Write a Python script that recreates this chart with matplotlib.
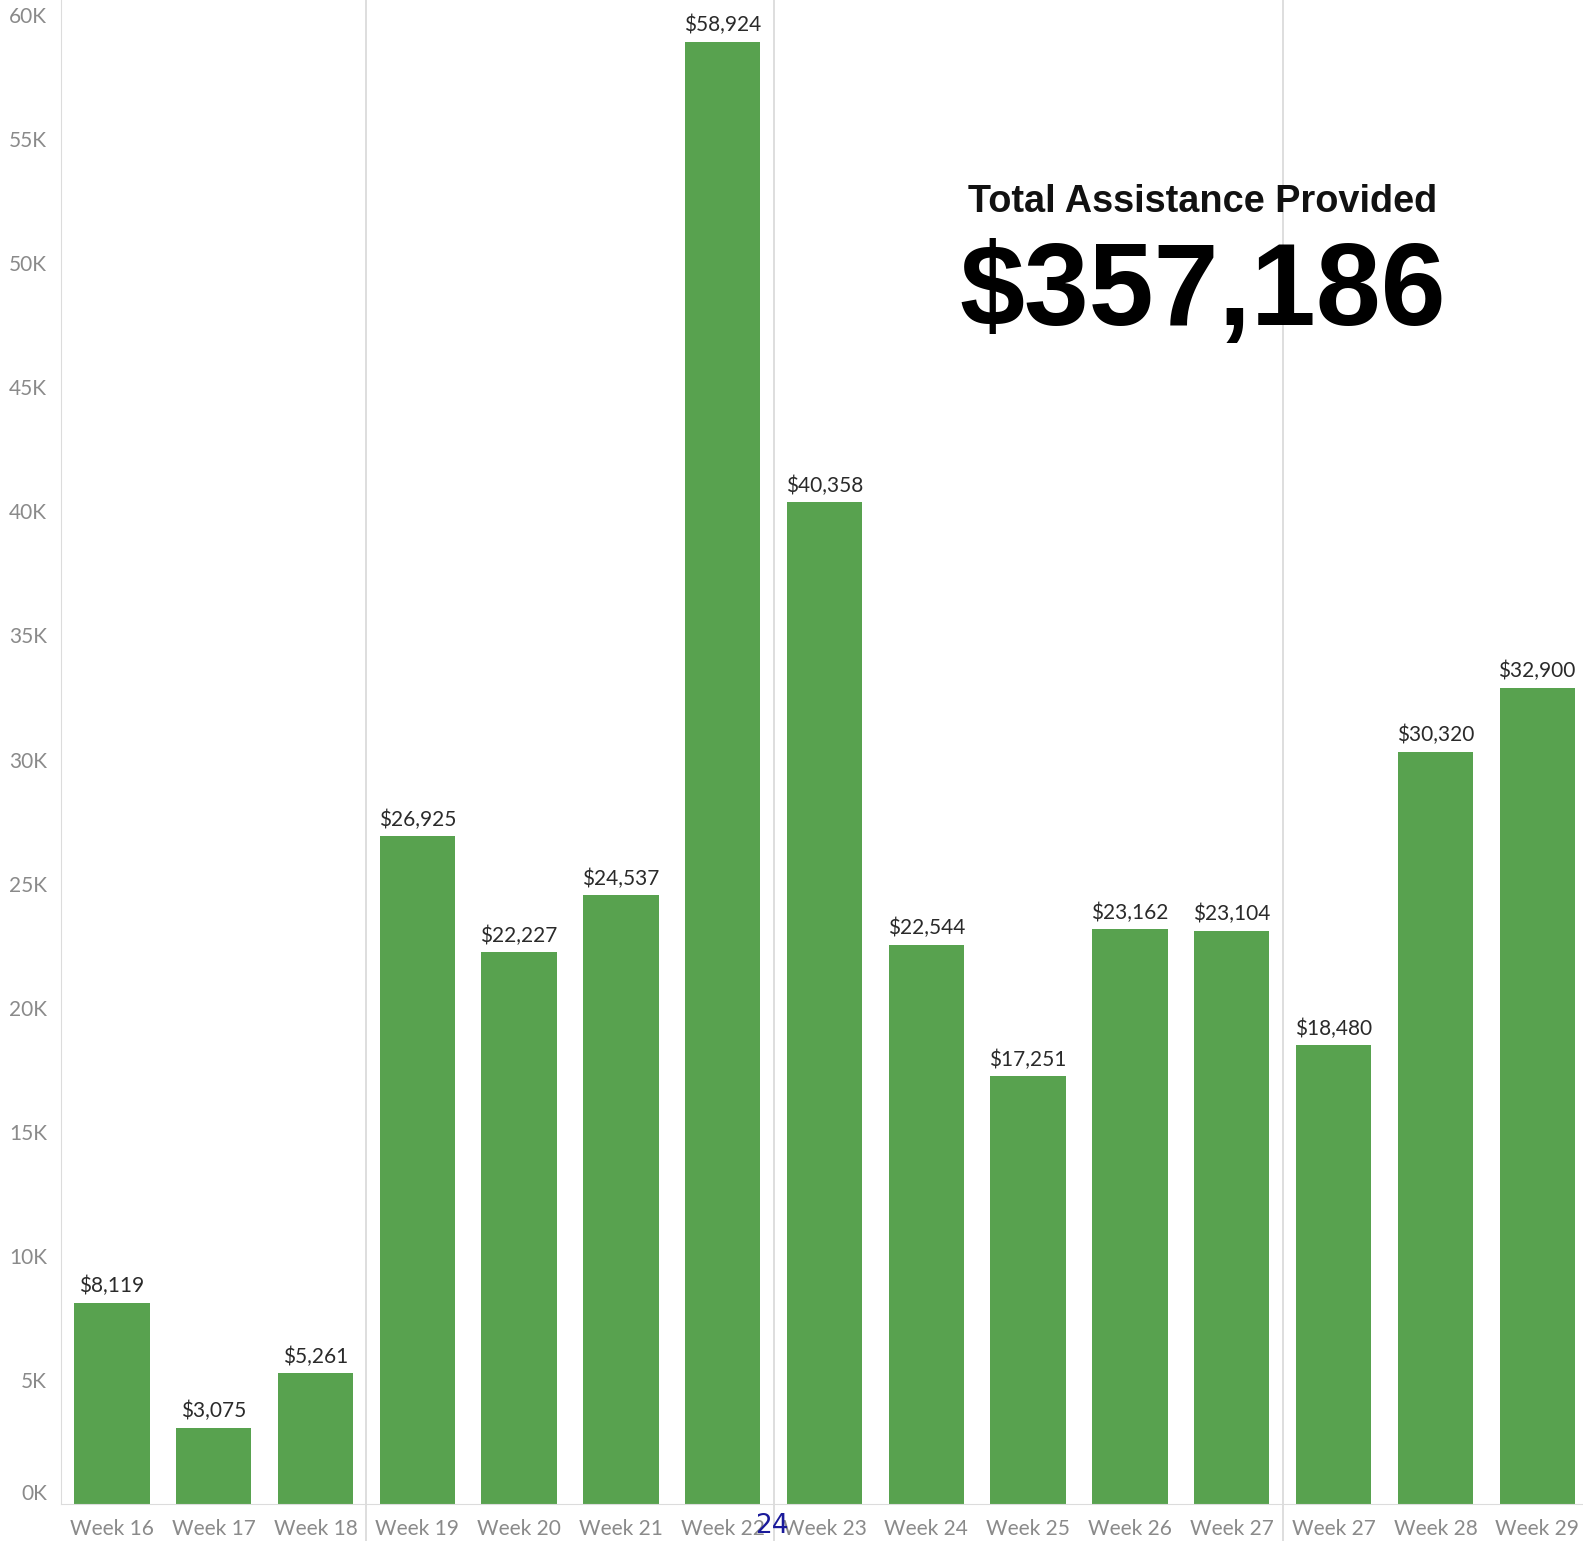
import matplotlib
matplotlib.use("Agg")
import matplotlib.pyplot as plt

# --- Data ---
weeks = ["Week 16", "Week 17", "Week 18", "Week 19", "Week 20", "Week 21", "Week 22",
         "Week 23", "Week 24", "Week 25", "Week 26", "Week 27", "Week 27", "Week 28", "Week 29"]
amounts = [8119, 3075, 5261, 26925, 22227, 24537, 58924,
           40358, 22544, 17251, 23162, 23104, 18480, 30320, 32900]
separators = [2.5, 6.5, 11.5]
yticks = list(range(0, 60001, 5000))
total_label = "$357,186"

BAR_GREEN = "#58a24f"
GRAY = "#8a8a8a"

fig = plt.figure(figsize=(15.83, 15.41), dpi=100)
ax = fig.add_axes([0.0385, 0.024, 0.9615, 0.976])

x = list(range(len(weeks)))
bars = ax.bar(x, amounts, width=0.74, color=BAR_GREEN, zorder=2)

# value labels above bars
for xi, v in zip(x, amounts):
    ax.text(xi, v + 250, f"${v:,}", ha="center", va="bottom",
            fontsize=15, color="#2a2a2a", family="Lato")

ax.set_xlim(-0.5, 14.45)
ax.set_ylim(0, 60604)

ax.set_yticks(yticks)
ax.set_yticklabels([f"{t // 1000}K" for t in yticks], color=GRAY,
                   fontsize=15, family="Lato")
# bottom label sits just above the baseline, like the original
ax.get_yticklabels()[0].set_verticalalignment("bottom")
ax.set_xticks(x)
ax.set_xticklabels(weeks, color=GRAY, fontsize=15, family="Lato")
ax.tick_params(axis="both", length=0)
ax.tick_params(axis="y", pad=10)
ax.tick_params(axis="x", pad=11)

for side in ["top", "right"]:
    ax.spines[side].set_visible(False)
ax.spines["left"].set_color("#dcdcdc")
ax.spines["bottom"].set_color("#dcdcdc")

# group separators extend into the label strip
for s in separators:
    ax.axvline(s, ymin=-0.03, ymax=1, color="#d8d8d8", lw=1.2, zorder=1, clip_on=False)

# headline annotation
fig.text(0.7595, 0.8688, "Total Assistance Provided", ha="center", va="center",
         fontsize=27.3, fontweight="bold", family="Liberation Sans", color="#111111")
fig.text(0.7595, 0.809, total_label, ha="center", va="center",
         fontsize=84, fontweight="bold", family="Liberation Sans", color="#000000")

# page number stamp
fig.text(0.4875, 0.0095, "24", ha="center", va="center", fontsize=19,
         color="#1a1a9a", family="DejaVu Sans")

fig.savefig("out.png", dpi=100)
